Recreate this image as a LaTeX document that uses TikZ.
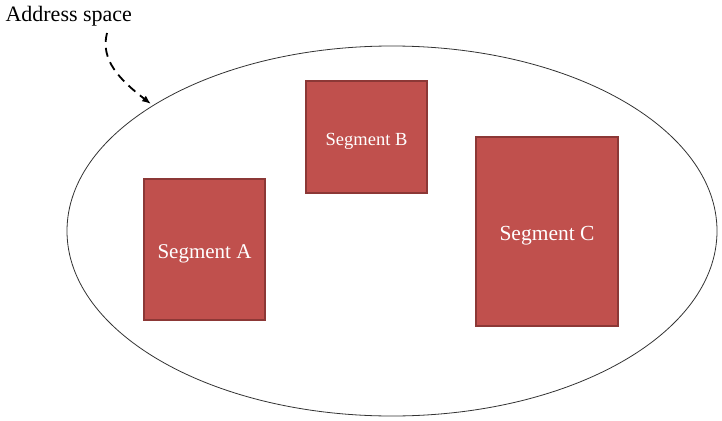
\documentclass[tikz,border=0pt]{standalone}
\usepackage{fontspec}
\setmainfont{Liberation Serif}
\usetikzlibrary{arrows.meta}
\definecolor{segred}{HTML}{C0504D}
\definecolor{segborder}{HTML}{8C3836}
\tikzset{
  segbox/.style={rectangle, draw=segborder, line width=1.5pt, fill=segred, text=white, inner sep=0pt}
}
\newcommand{\seglabel}[1]{\raisebox{-4pt}[\height][\depth]{#1}}
\begin{document}
\begin{tikzpicture}[x=1pt, y=-1pt]
            \useasboundingbox (0,0) rectangle (722,420);
            \draw[black!80, line width=0.8pt] (392,231) ellipse [x radius=325, y radius=185];

            \node[segbox, minimum width=121pt, minimum height=141pt, font=\fontsize{21}{24}\selectfont] (segA) at (204.5,249.5) {\seglabel{Segment A}};
            \node[segbox, minimum width=121pt, minimum height=112pt, font=\fontsize{18.5}{21}\selectfont] (segB) at (366.5,137) {\seglabel{Segment B}};
            \node[segbox, minimum width=142pt, minimum height=189pt, font=\fontsize{21.5}{24}\selectfont] (segC) at (547,231.5) {\seglabel{Segment C}};

            \node[anchor=west, font=\fontsize{22}{26}\selectfont] (addr) at (2,16) {Address space};
            \coordinate (tip) at (151,104);
            \draw[-{Latex[length=9pt, width=7pt]}, line width=1.8pt, dash pattern=on 9pt off 6pt] (107,33) .. controls (100,60) and (120,80) .. (tip);
        \end{tikzpicture}
\end{document}
